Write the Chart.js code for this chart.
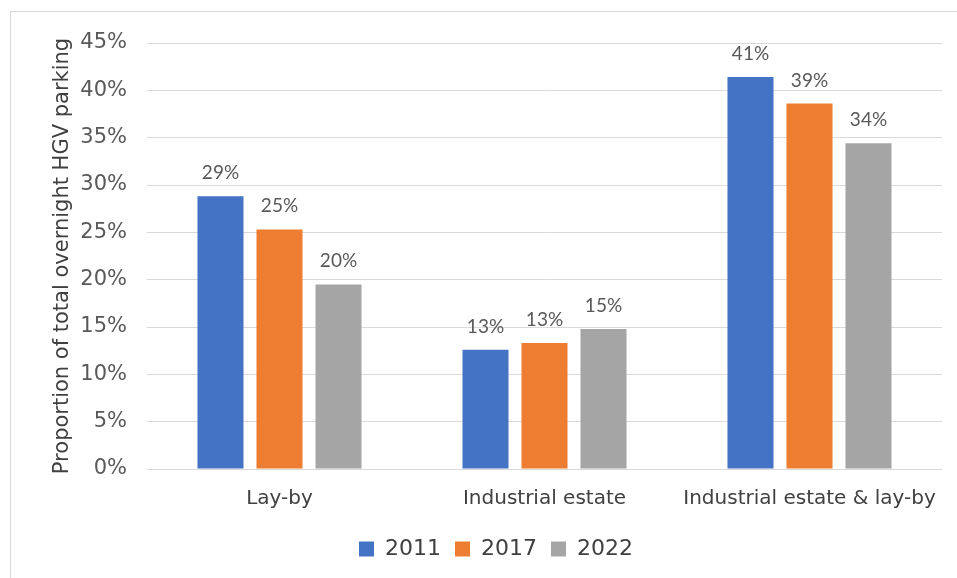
<!DOCTYPE html>
<html>
<head>
<meta charset="utf-8">
<script src="https://cdn.jsdelivr.net/npm/chart.js@4/dist/chart.umd.min.js"></script>
<style>
  html, body { margin: 0; padding: 0; background: #ffffff; overflow: hidden; }
  #wrap { position: relative; width: 957px; height: 578px; overflow: hidden; }
  #frame { position: absolute; left: 10px; top: 11px; width: 1100px; height: 1100px; border: 1px solid #d9d9d9; box-sizing: border-box; }
  canvas { position: absolute; left: 0; top: 0; }
</style>
</head>
<body>
<div id="wrap">
  <div id="frame"></div>
  <canvas id="c" width="957" height="578"></canvas>
</div>
<script>
const categories = ["Lay-by", "Industrial estate", "Industrial estate & lay-by"];
const series2011 = [28.8, 12.6, 41.4];
const series2017 = [25.3, 13.3, 38.6];
const series2022 = [19.5, 14.8, 34.4];
const seriesNames = ["2011", "2017", "2022"];
const yTicks = [0, 5, 10, 15, 20, 25, 30, 35, 40, 45];

const valueLabels = {
  id: 'valueLabels',
  afterDatasetsDraw(chart) {
    const ctx = chart.ctx;
    ctx.save();
    ctx.font = '19px Lato';
    ctx.fillStyle = '#595959';
    ctx.textAlign = 'center';
    ctx.textBaseline = 'alphabetic';
    chart.data.datasets.forEach((ds, i) => {
      const meta = chart.getDatasetMeta(i);
      meta.data.forEach((bar, j) => {
        ctx.fillText(Math.round(ds.data[j]) + '%', bar.x, bar.y - 17);
      });
    });
    ctx.restore();
  }
};

new Chart(document.getElementById('c'), {
  type: 'bar',
  data: {
    labels: categories,
    datasets: [
      { label: seriesNames[0], data: series2011, backgroundColor: '#4472C4' },
      { label: seriesNames[1], data: series2017, backgroundColor: '#ED7D31' },
      { label: seriesNames[2], data: series2022, backgroundColor: '#A5A5A5' }
    ]
  },
  options: {
    responsive: false,
    animation: false,
    devicePixelRatio: 1,
    categoryPercentage: 0.668,
    barPercentage: 0.78,
    layout: { padding: { left: 50, right: 15, top: 43, bottom: 8 } },
    plugins: {
      legend: {
        position: 'bottom',
        labels: {
          font: { family: 'DejaVu Sans', size: 22 },
          color: '#404040',
          boxWidth: 15,
          boxHeight: 15,
          padding: 14
        }
      },
      tooltip: { enabled: false }
    },
    scales: {
      x: {
        grid: { display: false, drawTicks: false },
        border: { display: false },
        ticks: { font: { family: 'DejaVu Sans', size: 20 }, color: '#404040', padding: 18, maxRotation: 0 },
        afterFit(scale) { scale.height = 55; }
      },
      y: {
        min: 0,
        max: 45,
        afterBuildTicks(scale) { scale.ticks = yTicks.map(v => ({ value: v })); },
        grid: { color: '#d9d9d9', lineWidth: 1, drawTicks: false },
        border: { display: false },
        ticks: {
          font: { family: 'DejaVu Sans', size: 21 },
          color: '#595959',
          padding: 20,
          callback: v => v + '%'
        },
        title: {
          display: true,
          text: 'Proportion of total overnight HGV parking',
          font: { family: 'DejaVu Sans', size: 21 },
          color: '#404040',
          padding: 0
        },
        afterFit(scale) { scale.width = 97; }
      }
    }
  },
  plugins: [valueLabels]
});
</script>
</body>
</html>
